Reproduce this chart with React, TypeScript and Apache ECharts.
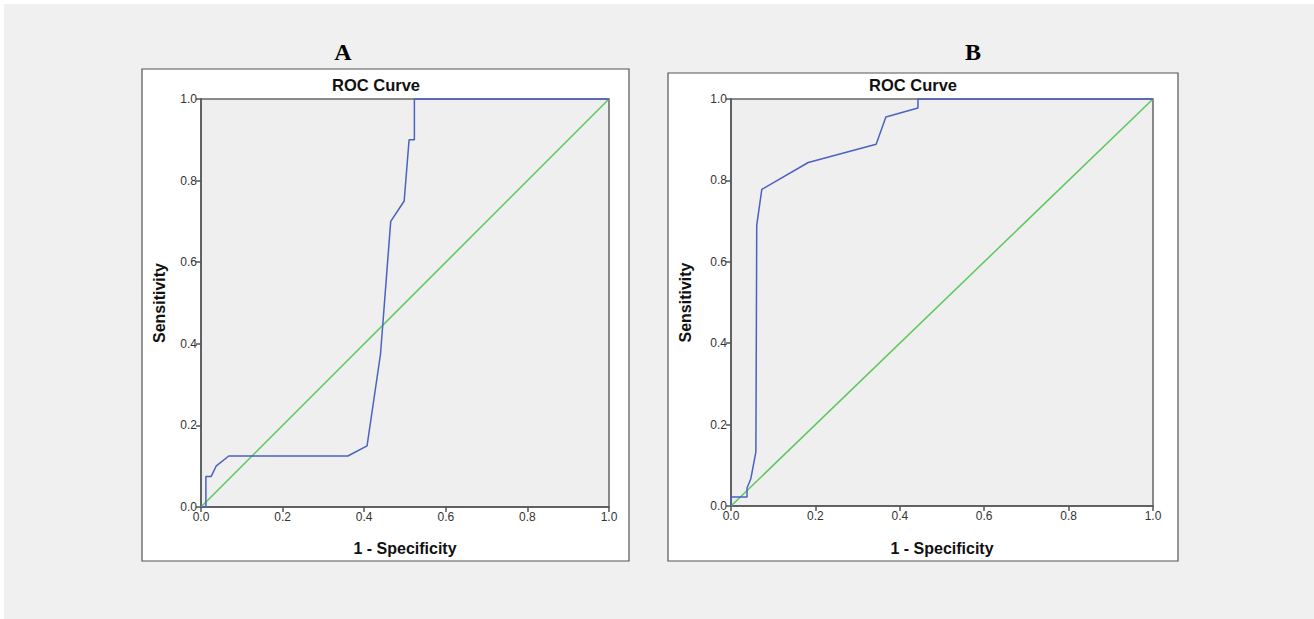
import React, { useEffect, useRef } from "react";
import * as echarts from "echarts";

const panelLabels = ["A", "B"];
const chartTitle = "ROC Curve";
const xAxisTitle = "1 - Specificity";
const yAxisTitle = "Sensitivity";

// Panel A ROC curve [1 - specificity, sensitivity]
const rocA: [number, number][] = [
  [0, 0], [0.012, 0], [0.012, 0.075], [0.025, 0.075], [0.037, 0.1],
  [0.068, 0.125], [0.36, 0.125], [0.407, 0.15], [0.44, 0.375],
  [0.465, 0.7], [0.498, 0.75], [0.51, 0.9], [0.523, 0.9], [0.523, 1], [1, 1],
];
// Panel B ROC curve
const rocB: [number, number][] = [
  [0, 0], [0, 0.022], [0.038, 0.022], [0.038, 0.044], [0.047, 0.067],
  [0.059, 0.133], [0.061, 0.69], [0.073, 0.778], [0.183, 0.844],
  [0.344, 0.889], [0.367, 0.956], [0.443, 0.978], [0.443, 1], [1, 1],
];
const reference: [number, number][] = [[0, 0], [1, 1]];

const grids = [
  { left: 201, top: 99, width: 408, height: 408 },
  { left: 731, top: 99, width: 422, height: 407 },
];
const boxes = [
  { x: 142, y: 69, w: 487, h: 492 },
  { x: 668, y: 73, w: 510, h: 488 },
];

export default function App() {
  const ref = useRef<HTMLDivElement>(null);
  useEffect(() => {
    const chart = echarts.init(ref.current!, null, { renderer: "svg" });
    const axisCommon = {
      type: "value" as const,
      min: 0,
      max: 1,
      interval: 0.2,
      axisLine: { show: true, onZero: false, lineStyle: { color: "#555", width: 1.5 } },
      axisTick: { show: true, length: 5, lineStyle: { color: "#555", width: 1.5 } },
      axisLabel: {
        color: "#333",
        fontSize: 12,
        fontFamily: "Liberation Sans, Arial",
        formatter: (v: number) => v.toFixed(1),
        margin: 4,
      },
      splitLine: { show: false },
    };
    const graphic: any[] = [
      { type: "rect", z: -20, shape: { x: 4, y: 4, width: 1310, height: 615 }, style: { fill: "#f0f0f0" } },
    ];
    grids.forEach((g, i) => {
      const b = boxes[i];
      const cx = g.left + g.width / 2;
      graphic.push(
        { type: "rect", z: -10, shape: { x: b.x, y: b.y, width: b.w, height: b.h }, style: { fill: "#fff", stroke: "#555", lineWidth: 1.2 } },
        { type: "text", style: { text: panelLabels[i], x: i === 0 ? 343 : 973, y: 52, align: "center", verticalAlign: "middle", font: "bold 24px 'Liberation Serif', 'Times New Roman', serif", fill: "#000" } },
        { type: "text", style: { text: chartTitle, x: cx - 29, y: 85, align: "center", verticalAlign: "middle", font: "bold 16.5px 'Liberation Sans', Arial, sans-serif", fill: "#111" } },
        { type: "text", style: { text: xAxisTitle, x: cx, y: 548, align: "center", verticalAlign: "middle", font: "bold 16px 'Liberation Sans', Arial, sans-serif", fill: "#111" } },
        { type: "text", x: b.x + 17, y: g.top + g.height / 2, rotation: Math.PI / 2, style: { text: yAxisTitle, x: 0, y: 0, align: "center", verticalAlign: "middle", font: "bold 16px 'Liberation Sans', Arial, sans-serif", fill: "#111" } },
      );
    });
    const series: any[] = [];
    [rocA, rocB].forEach((d, i) => {
      series.push(
        { type: "line", xAxisIndex: i, yAxisIndex: i, data: reference, showSymbol: false, clip: false, lineStyle: { color: "#5cc85c", width: 1.5 }, z: 3 },
        { type: "line", xAxisIndex: i, yAxisIndex: i, data: d, showSymbol: false, clip: false, lineStyle: { color: "#4a62c0", width: 1.5 }, z: 4 },
      );
    });
    chart.setOption({
      animation: false,
      backgroundColor: "#ffffff",
      graphic,
      grid: grids.map((g) => ({ ...g, show: true, backgroundColor: "#efefef", borderColor: "#666", borderWidth: 1.5 })),
      xAxis: grids.map((_, i) => ({ ...axisCommon, gridIndex: i })),
      yAxis: grids.map((_, i) => ({ ...axisCommon, gridIndex: i })),
      series,
    });
    return () => chart.dispose();
  }, []);
  return <div ref={ref} style={{ position: "fixed", left: 0, top: 0, width: 1314, height: 619 }} />;
}
